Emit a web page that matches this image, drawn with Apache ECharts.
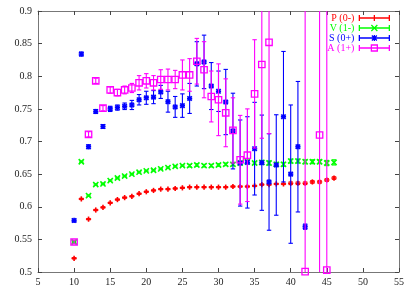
<!DOCTYPE html>
<html>
<head>
<meta charset="utf-8">
<script src="https://cdn.jsdelivr.net/npm/echarts@6/dist/echarts.min.js"></script>
<style>html,body{margin:0;padding:0;background:#fff}#c{width:415px;height:291px}</style>
</head>
<body>
<div id="c"></div>
<script>
// ---- data ----
const xTickLabels = ['5','10','15','20','25','30','35','40','45','50','55'];
const yTickLabels = ['0.5','0.55','0.6','0.65','0.7','0.75','0.8','0.85','0.9'];

const pX = [10,11,12,13,14,15,16,17,18,19,20,21,22,23,24,25,26,27,28,29,30,31,32,33,34,35,36,37,38,39,40,41,42,43,44,45,46];
const pY = [0.521,0.612,0.581,0.595,0.599,0.606,0.611,0.614,0.616,0.620,0.623,0.625,0.627,0.627,0.628,0.629,0.630,0.630,0.630,0.630,0.630,0.630,0.631,0.631,0.631,0.632,0.634,0.634,0.635,0.635,0.636,0.636,0.636,0.638,0.638,0.641,0.644];
const pE = [0.001,0.001,0.001,0.001,0.001,0.001,0.001,0.001,0.001,0.001,0.001,0.001,0.001,0.001,0.001,0.001,0.001,0.001,0.001,0.001,0.001,0.001,0.001,0.001,0.001,0.001,0.001,0.001,0.001,0.001,0.002,0.002,0.002,0.002,0.002,0.002,0.002];

const vX = [10,11,12,13,14,15,16,17,18,19,20,21,22,23,24,25,26,27,28,29,30,31,32,33,34,35,36,37,38,39,40,41,42,43,44,45,46];
const vY = [0.546,0.669,0.617,0.634,0.635,0.640,0.644,0.647,0.650,0.653,0.655,0.656,0.658,0.660,0.662,0.663,0.663,0.664,0.663,0.663,0.664,0.665,0.665,0.667,0.669,0.667,0.668,0.667,0.665,0.665,0.670,0.670,0.669,0.669,0.669,0.667,0.668];
const vE = [0.001,0.001,0.001,0.001,0.001,0.001,0.001,0.001,0.001,0.001,0.001,0.001,0.001,0.001,0.001,0.001,0.002,0.002,0.002,0.002,0.002,0.002,0.002,0.002,0.002,0.002,0.003,0.003,0.003,0.003,0.003,0.003,0.003,0.003,0.003,0.004,0.004];

const sX = [10,11,12,13,14,15,16,17,18,19,20,21,22,23,24,25,26,27,28,29,30,31,32,33,34,35,36,37,38,39,40,41,42];
const sY = [0.579,0.834,0.692,0.746,0.723,0.750,0.752,0.754,0.756,0.764,0.767,0.768,0.776,0.761,0.753,0.755,0.766,0.819,0.822,0.785,0.777,0.7605,0.716,0.667,0.668,0.689,0.6675,0.638,0.664,0.738,0.650,0.692,0.5695];
const sE = [0.002,0.003,0.003,0.003,0.003,0.004,0.004,0.005,0.007,0.008,0.010,0.010,0.010,0.016,0.016,0.018,0.023,0.034,0.041,0.036,0.031,0.050,0.058,0.066,0.070,0.071,0.073,0.074,0.077,0.100,0.106,0.100,0.004];

const aX = [10,12,13,14,15,16,17,18,19,20,21,22,23,24,25,26,27,28,29,30,31,32,33,34,35,36,37,42,44,45];
const aY = [0.546,0.711,0.793,0.751,0.779,0.775,0.779,0.782,0.790,0.793,0.790,0.795,0.795,0.795,0.802,0.802,0.823,0.810,0.769,0.764,0.744,0.717,0.672,0.679,0.773,0.818,0.852,0.5005,0.710,0.503];
const aE = [0.003,0.004,0.004,0.004,0.005,0.005,0.006,0.007,0.011,0.011,0.011,0.015,0.016,0.014,0.023,0.025,0.035,0.043,0.039,0.055,0.052,0.050,0.068,0.071,0.083,0.113,0.140,0.450,0.250,0.450];

const names = ['P (0-)','V (1-)','S (0+)','A (1+)'];
const colors = ['#ff0000','#00ff00','#0000ff','#ff00ff'];
// --------------------------------------

const XMIN = 5, XMAX = 55, YMIN = 0.5, YMAX = 0.9;
const FONT = 'Liberation Serif';

function rows(xs, ys, es) { return xs.map((x, i) => [x, ys[i], es[i]]); }

function makeRender(kind, color) {
  return function (params, api) {
    const x = api.value(0), y = api.value(1), e = api.value(2);
    const hiV = y + e, loV = y - e;
    const hi = Math.min(hiV, YMAX), lo = Math.max(loV, YMIN);
    const c = api.coord([x, y]);
    const pt = api.coord([x, hi]);
    const pb = api.coord([x, lo]);
    const ls = { stroke: color, lineWidth: 1.1, fill: null };
    const ch = [];
    const cw = 2.2;
    if (pb[1] - pt[1] > 1) {
      ch.push({ type: 'line', shape: { x1: c[0], y1: pt[1], x2: c[0], y2: pb[1] }, style: ls });
      if (hiV <= YMAX) ch.push({ type: 'line', shape: { x1: c[0] - cw, y1: pt[1], x2: c[0] + cw, y2: pt[1] }, style: ls });
      if (loV >= YMIN) ch.push({ type: 'line', shape: { x1: c[0] - cw, y1: pb[1], x2: c[0] + cw, y2: pb[1] }, style: ls });
    }
    const ss = { stroke: color, lineWidth: 1.6, fill: null };
    const r = 2.6;
    if (kind === 'plus' || kind === 'star') {
      ch.push({ type: 'line', shape: { x1: c[0] - r, y1: c[1], x2: c[0] + r, y2: c[1] }, style: ss });
      ch.push({ type: 'line', shape: { x1: c[0], y1: c[1] - r, x2: c[0], y2: c[1] + r }, style: ss });
    }
    if (kind === 'cross' || kind === 'star') {
      const d = kind === 'star' ? 2.2 : 2.6;
      ch.push({ type: 'line', shape: { x1: c[0] - d, y1: c[1] - d, x2: c[0] + d, y2: c[1] + d }, style: ss });
      ch.push({ type: 'line', shape: { x1: c[0] - d, y1: c[1] + d, x2: c[0] + d, y2: c[1] - d }, style: ss });
    }
    if (kind === 'square') {
      ch.push({ type: 'rect', shape: { x: c[0] - 3.2, y: c[1] - 3.2, width: 6.4, height: 6.4 }, style: { stroke: color, lineWidth: 1.3, fill: null } });
    }
    return { type: 'group', children: ch };
  };
}

const kinds = ['plus', 'cross', 'star', 'square'];
const datasets = [rows(pX, pY, pE), rows(vX, vY, vE), rows(sX, sY, sE), rows(aX, aY, aE)];

const iconBase = 'M0,4L30,4M0,1L0,7M30,1L30,7';
const icons = [
  'path://' + iconBase + 'M15,1L15,7',
  'path://' + iconBase + 'M12,1L18,7M12,7L18,1',
  'path://' + iconBase + 'M15,1L15,7M12.5,1.5L17.5,6.5M12.5,6.5L17.5,1.5',
  'path://' + iconBase + 'M12,1L18,1L18,7L12,7Z'
];

const axisLineStyle = { color: '#777', width: 1 };
const tickStyle = { color: '#444', width: 1 };

const chart = echarts.init(document.getElementById('c'), null, { renderer: 'canvas' });
chart.setOption({
  animation: false,
  backgroundColor: '#fff',
  grid: { left: 38, right: 16, top: 11, bottom: 19, containLabel: false },
  xAxis: [
    {
      type: 'value', min: XMIN, max: XMAX, interval: 5, position: 'bottom',
      axisLine: { show: true, onZero: false, lineStyle: axisLineStyle },
      axisTick: { show: true, inside: true, length: 4, lineStyle: tickStyle },
      axisLabel: {
        margin: 5, color: '#222', fontFamily: FONT, fontSize: 10,
        formatter: v => xTickLabels[Math.round((v - XMIN) / 5)]
      },
      splitLine: { show: false }
    },
    {
      type: 'value', min: XMIN, max: XMAX, interval: 5, position: 'top',
      axisLine: { show: true, onZero: false, lineStyle: axisLineStyle },
      axisTick: { show: true, inside: true, length: 4, lineStyle: tickStyle },
      axisLabel: { show: false }, splitLine: { show: false }
    }
  ],
  yAxis: [
    {
      type: 'value', min: YMIN, max: YMAX, interval: 0.05, position: 'left',
      axisLine: { show: true, onZero: false, lineStyle: axisLineStyle },
      axisTick: { show: true, inside: true, length: 4, lineStyle: tickStyle },
      axisLabel: {
        margin: 6, color: '#222', fontFamily: FONT, fontSize: 10,
        formatter: v => yTickLabels[Math.round((v - YMIN) / 0.05)]
      },
      splitLine: { show: false }
    },
    {
      type: 'value', min: YMIN, max: YMAX, interval: 0.05, position: 'right',
      axisLine: { show: true, onZero: false, lineStyle: axisLineStyle },
      axisTick: { show: true, inside: true, length: 4, lineStyle: tickStyle },
      axisLabel: { show: false }, splitLine: { show: false }
    }
  ],
  legend: {
    orient: 'vertical', right: 25, top: 9, align: 'right',
    itemWidth: 30, itemHeight: 7, itemGap: 0, padding: [4, 0, 4, 0],
    selectedMode: false,
    textStyle: { fontFamily: FONT, fontSize: 10, lineHeight: 10 },
    data: names.map((n, i) => ({
      name: n, icon: icons[i],
      itemStyle: { color: 'rgba(0,0,0,0)', borderColor: colors[i], borderWidth: 1.3 },
      textStyle: { color: colors[i], fontFamily: FONT, fontSize: 10, lineHeight: 10 }
    }))
  },
  series: names.map((n, i) => ({
    type: 'custom', name: n, xAxisIndex: 0, yAxisIndex: 0,
    itemStyle: { color: colors[i] },
    renderItem: makeRender(kinds[i], colors[i]),
    encode: { x: 0, y: 1 },
    data: datasets[i],
    z: 2 + i
  }))
});
</script>
</body>
</html>
